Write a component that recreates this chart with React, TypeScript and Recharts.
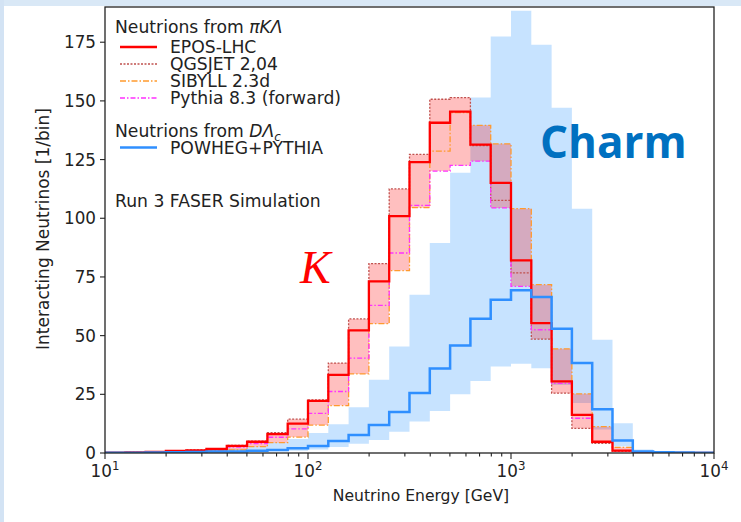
import { Area, ComposedChart, Line, XAxis, YAxis } from "recharts";

// log bin edges, 10 bins per decade (last edge closes the final step)
const edges = [
  10, 12.59, 15.85, 19.95, 25.12, 31.62, 39.81, 50.12, 63.1, 79.43,
  100, 125.9, 158.5, 199.5, 251.2, 316.2, 398.1, 501.2, 631, 794.3,
  1000, 1259, 1585, 1995, 2512, 3162, 3981, 5012, 6310, 7943, 10000,
];

// light hadrons (pi, K, Lambda)
const eposLhc = [0.2, 0.3, 0.5, 0.9, 1.1, 1.7, 3.0, 4.8, 8.0, 12.5, 22.2, 33.3, 52.2, 73.1, 100.9, 123.9, 140.7, 145.4, 131.4, 115.1, 82.1, 55.3, 30.5, 16.2, 4.8, 1.0, 0.2, 0.1, 0.05, 0];
const qgsjet = [0.2, 0.3, 0.6, 1.0, 1.3, 1.9, 3.2, 5.1, 8.7, 14.4, 22.6, 38.3, 57.1, 80.7, 112.5, 127.2, 150.7, 151.4, 131.0, 107.6, 76.7, 48.5, 25.5, 10.5, 4.1, 0.7, 0.1, 0.05, 0, 0];
const sibyll = [0.1, 0.2, 0.3, 0.5, 0.8, 1.0, 1.3, 2.7, 4.4, 6.8, 11.9, 20.2, 33.7, 55.1, 77.7, 104.5, 128.6, 145.0, 139.6, 131.7, 104.1, 71.7, 44.4, 25.2, 11.2, 2.4, 0.4, 0.1, 0.05, 0];
const pythia = [0.2, 0.3, 0.5, 0.8, 1.0, 1.5, 2.5, 4.0, 6.7, 10.3, 16.9, 26.2, 40.4, 62.9, 85.2, 105.5, 120.1, 122.5, 124.3, 104.4, 71.0, 52.5, 29.7, 14.8, 4.8, 1.0, 0.2, 0.1, 0.05, 0];

// charm (D, Lambda_c)
const powheg = [0.1, 0.1, 0.2, 0.3, 0.4, 0.6, 0.6, 1.0, 1.3, 2.0, 3.0, 5.1, 7.7, 11.9, 17.5, 25.6, 36.0, 45.8, 57.2, 65.3, 69.3, 66.5, 52.9, 38.3, 18.6, 5.3, 0.6, 0.3, 0.2, 0.1];
const charmHigh = [0.3, 0.3, 0.5, 0.8, 1.1, 1.6, 1.8, 2.8, 4.5, 6.0, 8.5, 12.3, 19.5, 31.2, 45.4, 67.4, 89.5, 119.4, 151.4, 177.4, 188.4, 173.9, 147.1, 104.1, 48.2, 12.7, 1.5, 0.8, 0.5, 0.3];
const charmLow = [0.05, 0.05, 0.1, 0.15, 0.2, 0.3, 0.3, 0.5, 0.7, 1.0, 1.5, 2.6, 3.9, 5.5, 9.1, 13.4, 17.9, 25.0, 30.7, 36.8, 38.0, 36.1, 29.0, 21.3, 10.0, 2.8, 0.3, 0.15, 0.1, 0.05];

const yTicks = [0, 25, 50, 75, 100, 125, 150, 175];
const majorTicks = [10, 100, 1000, 10000];
const minorTicks = [
  20, 30, 40, 50, 60, 70, 80, 90,
  200, 300, 400, 500, 600, 700, 800, 900,
  2000, 3000, 4000, 5000, 6000, 7000, 8000, 9000,
];

const data = edges.map((x, i) => {
  const k = Math.min(i, eposLhc.length - 1);
  const gens = [eposLhc[k], qgsjet[k], sibyll[k], pythia[k]];
  return {
    x,
    epos: eposLhc[k],
    qgsjet: qgsjet[k],
    sibyll: sibyll[k],
    pythia: pythia[k],
    powheg: powheg[k],
    kBand: [Math.min(...gens), Math.max(...gens)],
    charmBand: [charmLow[k], charmHigh[k]],
  };
});

const FONT = "'DejaVu Sans', sans-serif";
const INK = "#222";

function XTick(props: any) {
  const { x, y, payload } = props;
  const v = payload.value;
  const major = majorTicks.includes(v);
  return (
    <g>
      <line x1={x} x2={x} y1={y} y2={y + (major ? 6 : 3.5)} stroke={INK} strokeWidth={1.1} />
      {major && (
        <text x={x} y={y + 24} textAnchor="middle" fontFamily={FONT} fontSize={16.8} fill={INK}>
          10
          <tspan dy={-7} fontSize={11.8}>
            {Math.round(Math.log10(v))}
          </tspan>
        </text>
      )}
    </g>
  );
}

export default function App() {
  return (
    <div style={{ position: "absolute", left: 0, top: 0, width: 741, height: 522, background: "#fff", overflow: "hidden" }}>
      <div style={{ position: "absolute", left: 0, top: 0, width: 741, height: 6, background: "#d9e8f6" }} />
      <div style={{ position: "absolute", left: 0, top: 0, width: 4, height: 522, background: "#d3e3f4" }} />
      <div style={{ position: "absolute", left: 0, top: 0 }}>
        <ComposedChart width={741} height={522} data={data} margin={{ top: 7, right: 27, bottom: 39, left: 45 }}>
          <XAxis
            dataKey="x"
            type="number"
            scale="log"
            domain={[10, 10000]}
            allowDataOverflow
            ticks={[...majorTicks, ...minorTicks]}
            interval={0}
            tick={(p: any) => <XTick {...p} />}
            tickLine={false}
            axisLine={false}
            tickSize={0}
            tickMargin={0}
            height={30}
          />
          <YAxis
            type="number"
            domain={[0, 190]}
            allowDataOverflow
            ticks={yTicks}
            width={60}
            axisLine={false}
            tickSize={5}
            tickMargin={4}
            tickLine={{ stroke: INK, strokeWidth: 1.1 }}
            tick={{ fontSize: 16.8, fill: INK, fontFamily: FONT }}
          />
          <Area dataKey="charmBand" type="stepAfter" stroke="none" fill="#1e90ff" fillOpacity={0.25} isAnimationActive={false} />
          <Area dataKey="kBand" type="stepAfter" stroke="none" fill="#ff0000" fillOpacity={0.25} isAnimationActive={false} />
          <Line dataKey="qgsjet" type="stepAfter" stroke="#c0504d" strokeWidth={1.3} strokeDasharray="2 1.5" dot={false} isAnimationActive={false} />
          <Line dataKey="sibyll" type="stepAfter" stroke="#ff9a2e" strokeWidth={1.3} strokeDasharray="6 2 1.5 2" dot={false} isAnimationActive={false} />
          <Line dataKey="pythia" type="stepAfter" stroke="#ff30ff" strokeWidth={1.3} strokeDasharray="5 2 1.5 2" dot={false} isAnimationActive={false} />
          <Line dataKey="epos" type="stepAfter" stroke="#ff0000" strokeWidth={2.3} dot={false} isAnimationActive={false} />
          <Line dataKey="powheg" type="stepAfter" stroke="#2f8fff" strokeWidth={2.5} dot={false} isAnimationActive={false} />
        </ComposedChart>
      </div>
      <svg width={741} height={522} style={{ position: "absolute", left: 0, top: 0, pointerEvents: "none" }}>
        <rect x={105} y={7} width={609} height={446} fill="none" stroke={INK} strokeWidth={1.3} />
        <g fontFamily={FONT} fontSize={17.2} fill={INK}>
          <text x={115} y={33}>
            Neutrions from <tspan fontStyle="italic">πKΛ</tspan>
          </text>
          <line x1={120} x2={157} y1={47} y2={47} stroke="#ff0000" strokeWidth={2.3} />
          <text x={170} y={53}>EPOS-LHC</text>
          <line x1={120} x2={157} y1={64} y2={64} stroke="#c0504d" strokeWidth={1.3} strokeDasharray="2 1.5" />
          <text x={170} y={70}>QGSJET 2,04</text>
          <line x1={120} x2={157} y1={81} y2={81} stroke="#ff9a2e" strokeWidth={1.3} strokeDasharray="6 2 1.5 2" />
          <text x={170} y={87}>SIBYLL 2.3d</text>
          <line x1={120} x2={157} y1={98} y2={98} stroke="#ff30ff" strokeWidth={1.3} strokeDasharray="5 2 1.5 2" />
          <text x={170} y={104}>Pythia 8.3 (forward)</text>
          <text x={115} y={137}>
            Neutrions from <tspan fontStyle="italic">DΛ</tspan>
            <tspan fontStyle="italic" fontSize={11.8} dy={4}>c</tspan>
          </text>
          <line x1={120} x2={157} y1={147.5} y2={147.5} stroke="#2f8fff" strokeWidth={2.5} />
          <text x={170} y={154}>POWHEG+PYTHIA</text>
          <text x={115} y={207}>Run 3 FASER Simulation</text>
          <text x={421} y={501} textAnchor="middle" fontSize={15.6}>Neutrino Energy [GeV]</text>
          <text x={0} y={0} textAnchor="middle" dominantBaseline="central" fontSize={17} transform="translate(43 229) rotate(-90)">
            Interacting Neutrinos [1/bin]
          </text>
        </g>
        <text x={300} y={283} fontFamily="'Liberation Serif', serif" fontStyle="italic" fontSize={46} fill="#ff0000">
          K
        </text>
        <text x={540} y={158} fontFamily="'Open Sans', sans-serif" fontWeight={700} fontSize={44} fill="#0070c0">
          Charm
        </text>
      </svg>
    </div>
  );
}
